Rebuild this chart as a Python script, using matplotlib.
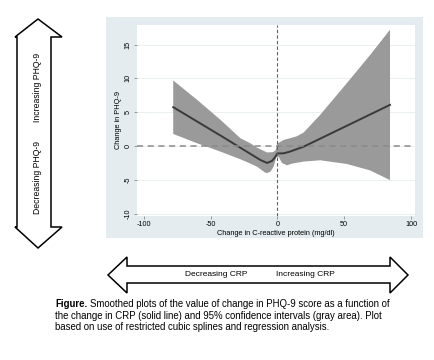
import matplotlib
matplotlib.use("Agg")
import matplotlib.pyplot as plt
from matplotlib.patches import Polygon, Rectangle

plt.rcParams['font.family'] = ['Liberation Sans', 'DejaVu Sans']
plt.rcParams['axes.unicode_minus'] = False

# smoothed fit (solid line)
crp_line = [-77.9, -42.5, -12.7, -7.7, -4.0, -1.5, 0.0, 4.7, 9.0, 19.6, 84.3]
phq_line = [5.75, 1.55, -2.06, -2.5, -2.2, -1.6, -1.1, -1.07, -0.85, -0.1, 6.09]

# 95% confidence band
crp_upper = [-77.9, -60.0, -42.5, -27.6, -20.1, -15.2, -7.7, -3.2, -1.2, 0.0, 2.2, 4.7, 8.5, 14.7, 19.7, 32.0, 52.0, 70.0, 84.3]
phq_upper = [9.7, 6.83, 3.87, 1.15, 0.4, -0.23, -0.95, -0.9, -0.6, 0.4, 0.6, 0.9, 1.1, 1.45, 2.0, 4.6, 9.3, 13.6, 17.2]
crp_lower = [-77.9, -60.0, -42.5, -27.6, -20.1, -15.2, -9.0, -7.7, -5.2, -2.8, -0.7, 1.0, 3.5, 7.2, 11.0, 19.6, 32.0, 52.0, 69.4, 84.3]
phq_lower = [1.79, 0.41, -0.83, -1.96, -2.6, -3.05, -3.94, -4.0, -3.8, -3.05, -1.6, -1.6, -2.5, -2.85, -2.6, -2.3, -2.1, -2.65, -3.6, -5.03]

x_ticks = [-100, -50, 0, 50, 100]
y_ticks = [-10, -5, 0, 5, 10, 15]

W, H = 434, 360


def px(x, y):
    return (x / W, 1 - y / H)


fig = plt.figure(figsize=(W / 100, H / 100), dpi=100)
fig.patch.set_facecolor('white')

# Stata graph region
x0, y0 = px(106, 238)
x1, y1 = px(423, 16.7)
fig.patches.append(Rectangle((x0, y0), x1 - x0, y1 - y0, transform=fig.transFigure,
                             facecolor='#e4ecef', edgecolor='none', zorder=-1))

l, b = px(137, 215.7)
r, t = px(415, 25)
ax = fig.add_axes([l, b, r - l, t - b])
ax.set_zorder(1)
ax.set_facecolor('white')

band_x = crp_upper + crp_lower[::-1]
band_y = phq_upper + phq_lower[::-1]
ax.fill(band_x, band_y, color='#9a9a9a', lw=0, zorder=2)
ax.plot(crp_line, phq_line, color='#3a3a3a', lw=1.4, zorder=3)

ax.axhline(0, color='#8a8a8a', lw=1.1, dashes=(4, 3), zorder=4)
ax.axvline(0, color='#606060', lw=0.8, dashes=(3, 2), zorder=4)

ax.set_xlim(-105, 103)
ax.set_ylim(-10.3, 17.9)
ax.set_xticks(x_ticks)
ax.set_yticks(y_ticks)
ax.set_yticklabels([str(v) for v in y_ticks], rotation=90, va='center')
ax.tick_params(labelsize=5.2, length=2, width=0.5, color='#777777', pad=2)
ax.grid(axis='y', color='#e6edf0', lw=0.6)
ax.set_axisbelow(True)
for s in ax.spines.values():
    s.set_visible(False)

ax.set_xlabel('Change in C-reactive protein (mg/dl)', fontsize=5.3, labelpad=1)
ax.set_ylabel('Change in PHQ-9', fontsize=5.3, labelpad=2)

# vertical double arrow (PHQ-9)
v_arrow = [(38, 19), (62, 37), (51, 37), (51, 227), (62, 227), (38, 248),
           (15, 227), (17, 227), (17, 37), (15, 37)]
fig.patches.append(Polygon([px(*p) for p in v_arrow], closed=True, transform=fig.transFigure,
                           facecolor='white', edgecolor='black', lw=1.1))
fig.text(*px(37, 87), 'Increasing PHQ-9', rotation=90, ha='center', va='center', fontsize=6.2)
fig.text(*px(37, 178), 'Decreasing PHQ-9', rotation=90, ha='center', va='center', fontsize=6.2)

# horizontal double arrow (CRP)
h_arrow = [(108, 275), (127, 257), (127, 266), (390, 266), (390, 257), (408, 275),
           (390, 293), (390, 283), (127, 283), (127, 293)]
fig.patches.append(Polygon([px(*p) for p in h_arrow], closed=True, transform=fig.transFigure,
                           facecolor='white', edgecolor='black', lw=1.1))
fig.text(*px(216, 275), 'Decreasing CRP', ha='center', va='center', fontsize=6.0)
fig.text(*px(305, 275), 'Increasing CRP', ha='center', va='center', fontsize=6.0)

# caption
cap_size = 6.9
fig_lbl = fig.text(*px(55, 304), 'Figure.', fontsize=cap_size, fontweight='bold', va='center')
fig.canvas.draw()
bb = fig_lbl.get_window_extent()
fig.text(bb.x1 / W + 3 / W, 1 - 304 / H,
         'Smoothed plots of the value of change in PHQ-9 score as a function of',
         fontsize=cap_size, va='center')
fig.text(*px(55, 316), 'the change in CRP (solid line) and 95% confidence intervals (gray area). Plot',
         fontsize=cap_size, va='center')
fig.text(*px(55, 327.5), 'based on use of restricted cubic splines and regression analysis.',
         fontsize=cap_size, va='center')

fig.savefig('out.png', dpi=100)
